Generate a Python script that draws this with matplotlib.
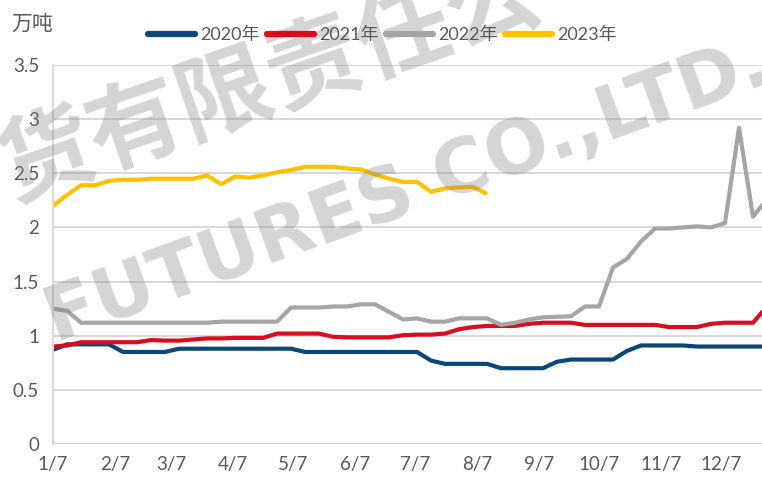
import numpy as np
import matplotlib
matplotlib.use('Agg')
import matplotlib.pyplot as plt

plt.rcParams['font.family'] = ['Lato', 'Noto Sans CJK SC', 'DejaVu Sans']

# weekly data, first point on 1/7, one point every 7 days
v2020 = [0.87, 0.92, 0.92, 0.92, 0.92, 0.85, 0.85, 0.85, 0.85, 0.88,
         0.88, 0.88, 0.88, 0.88, 0.88, 0.88, 0.88, 0.88, 0.85, 0.85,
         0.85, 0.85, 0.85, 0.85, 0.85, 0.85, 0.85, 0.77, 0.74, 0.74,
         0.74, 0.74, 0.70, 0.70, 0.70, 0.70, 0.76, 0.78, 0.78, 0.78,
         0.78, 0.86, 0.91, 0.91, 0.91, 0.91, 0.90, 0.90, 0.90, 0.90,
         0.90, 0.90]
v2021 = [0.90, 0.91, 0.94, 0.94, 0.94, 0.94, 0.94, 0.96, 0.955, 0.955,
         0.965, 0.975, 0.975, 0.98, 0.98, 0.98, 1.02, 1.02, 1.02, 1.02,
         0.99, 0.985, 0.985, 0.985, 0.985, 1.005, 1.01, 1.01, 1.02, 1.06,
         1.08, 1.09, 1.09, 1.09, 1.11, 1.12, 1.12, 1.12, 1.10, 1.10,
         1.10, 1.10, 1.10, 1.10, 1.08, 1.08, 1.08, 1.11, 1.12, 1.12,
         1.12, 1.27]
v2022 = [1.25, 1.23, 1.12, 1.12, 1.12, 1.12, 1.12, 1.12, 1.12, 1.12,
         1.12, 1.12, 1.13, 1.13, 1.13, 1.13, 1.13, 1.26, 1.26, 1.26,
         1.27, 1.27, 1.29, 1.29, 1.22, 1.15, 1.16, 1.13, 1.13, 1.16,
         1.16, 1.16, 1.10, 1.12, 1.15, 1.17, 1.175, 1.18, 1.27, 1.27,
         1.63, 1.71, 1.87, 1.99, 1.99, 2.00, 2.01, 2.00, 2.04, 2.92,
         2.10, 2.26]
v2023 = [2.20, 2.30, 2.39, 2.39, 2.43, 2.44, 2.44, 2.45, 2.45, 2.45,
         2.45, 2.48, 2.40, 2.47, 2.46, 2.48, 2.51, 2.53, 2.56, 2.56,
         2.56, 2.545, 2.535, 2.49, 2.45, 2.42, 2.42, 2.33, 2.36, 2.37,
         2.375, 2.31]

labels = ['2020年', '2021年', '2022年', '2023年']
colors = ['#0b4679', '#d90d1e', '#a5a5a5', '#ffc000']
tick_days = [0, 31, 59, 90, 120, 151, 181, 212, 243, 273, 304, 334]
tick_labels = ['1/7', '2/7', '3/7', '4/7', '5/7', '6/7', '7/7', '8/7',
               '9/7', '10/7', '11/7', '12/7']

fig = plt.figure(figsize=(7.62, 4.87), dpi=100)
ax = fig.add_axes([0.0696, 0.0883, 0.9304, 0.7782])

for vals, lab, col in zip([v2020, v2021, v2022, v2023], labels, colors):
    x = np.arange(len(vals)) * 7
    ax.plot(x, vals, color=col, lw=3, label=lab,
            solid_joinstyle='round', solid_capstyle='butt')

ax.set_xlim(0, 354.5)
ax.set_ylim(0, 3.5)
ax.set_yticks(np.arange(0, 3.51, 0.5))
ax.set_yticklabels(['0', '0.5', '1', '1.5', '2', '2.5', '3', '3.5'])
ax.set_xticks(tick_days)
ax.set_xticklabels(tick_labels)
ax.tick_params(axis='both', length=0, labelsize=13.5, colors='#595959')
ax.tick_params(axis='y', pad=10)
ax.tick_params(axis='x', pad=9)
ax.grid(axis='y', color='#d9d9d9', lw=1.5)
ax.set_axisbelow(True)
for s in ['top', 'right', 'bottom']:
    ax.spines[s].set_visible(False)
ax.spines['left'].set_color('#d9d9d9')
ax.spines['left'].set_linewidth(1.5)

fig.text(0.015, 0.952, '万吨', fontsize=15, color='#595959', va='center')

leg = fig.legend(loc='center', bbox_to_anchor=(0.502, 0.928), ncol=4,
                 frameon=False, fontsize=13, handlelength=2.6,
                 handletextpad=0.3, columnspacing=0.4)
for h in leg.get_lines():
    h.set_linewidth(4.5)
    h.set_solid_capstyle('round')
for t in leg.get_texts():
    t.set_color('#595959')

# watermark
fig.text(0.354, 0.832, '货有限责任公', fontsize=68, fontweight='bold',
         color='#808080', alpha=0.33, rotation=19, ha='center', va='center',
         family=['Noto Sans CJK SC'])
fig.text(0.535, 0.605, 'FUTURES CO.,LTD.', fontsize=54, fontweight='bold',
         color='#808080', alpha=0.33, rotation=20, ha='center', va='center',
         family=['DejaVu Sans'])

fig.savefig('out.png', dpi=100)
